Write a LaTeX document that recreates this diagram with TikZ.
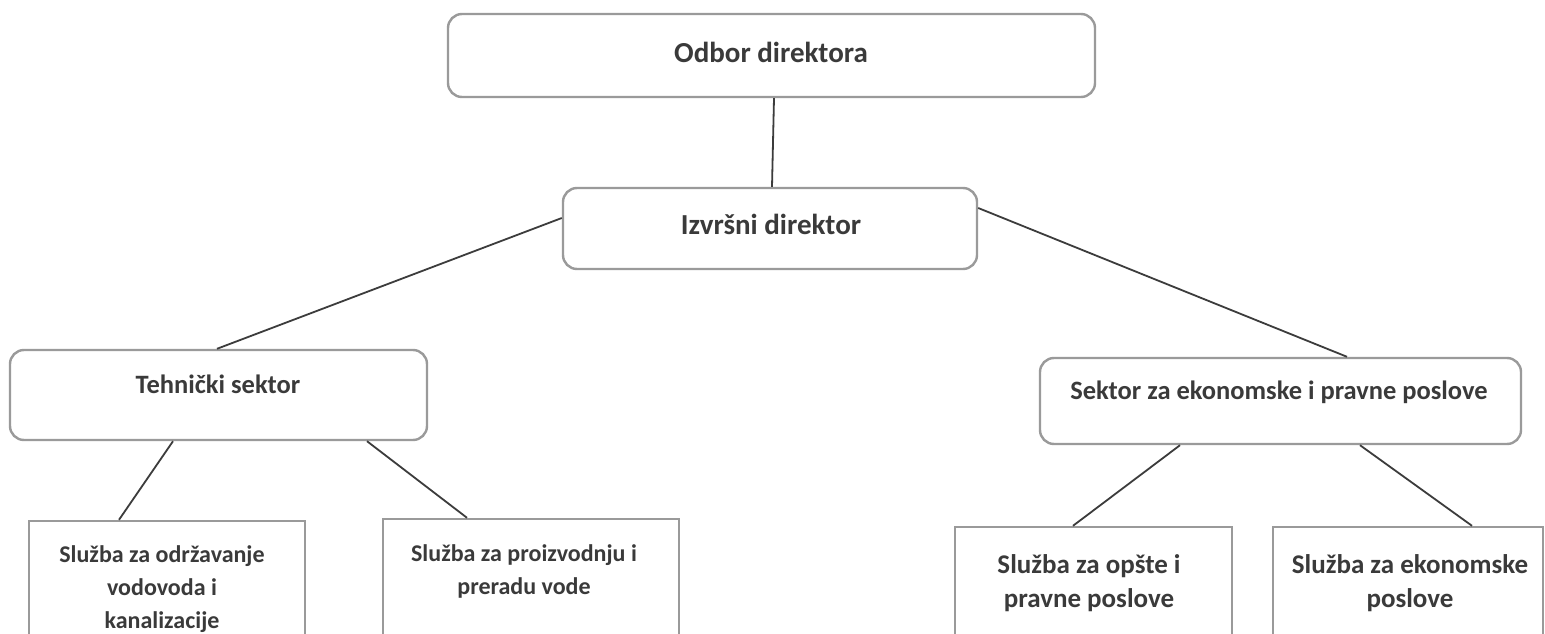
\documentclass[tikz,border=0pt]{standalone}
\usepackage{fontspec}
\setmainfont{Carlito}
\begin{document}
\begin{tikzpicture}[x=1pt,y=-1pt,
  rbox/.style={draw=boxgray, line width=2.4pt, rounded corners=14pt, inner sep=0pt},
  sbox/.style={draw=boxgray, line width=2.4pt, inner sep=0pt},
  txt/.style={text=txtgray, font=\bfseries, inner sep=0pt, align=center},
  conn/.style={draw=linegray, line width=1.8pt}]
\definecolor{boxgray}{HTML}{9A9A9A}
\definecolor{linegray}{HTML}{3C3C3C}
\definecolor{txtgray}{HTML}{3A3A3A}
\clip (0,0) rectangle (1545,634);
\fill[white] (0,0) rectangle (1545,634);
% boxes
\node[rbox, minimum width=647pt, minimum height=83pt] (odbor) at (771.5,55.5) {};
\node[rbox, minimum width=414pt, minimum height=81pt] (izv) at (770,228.5) {};
\node[rbox, minimum width=417pt, minimum height=90pt] (tech) at (218.5,395) {};
\node[rbox, minimum width=481pt, minimum height=86pt] (sek) at (1280.5,401) {};
\node[sbox, minimum width=276pt, minimum height=130pt] (sa) at (167,586) {};
\node[sbox, minimum width=296pt, minimum height=130pt] (sb) at (531,584) {};
\node[sbox, minimum width=277pt, minimum height=122pt] (sc) at (1093.5,588) {};
\node[sbox, minimum width=270pt, minimum height=122pt] (sd) at (1408,588) {};
% texts
\node[txt, font=\bfseries\fontsize{29pt}{35pt}\selectfont] (todbor) at (771,52) {Odbor direktora};
\node[txt, font=\bfseries\fontsize{29pt}{35pt}\selectfont] (tizv) at (771,224) {Izvršni direktor};
\node[txt, font=\bfseries\fontsize{26.5pt}{32pt}\selectfont] (ttech) at (218,384) {Tehnički sektor};
\node[txt, font=\bfseries\fontsize{26.5pt}{32pt}\selectfont] (tsek) at (1279,392) {Sektor za ekonomske i pravne poslove};
\node[txt, font=\bfseries\fontsize{24pt}{33pt}\selectfont] (tsa) at (162,589) {Služba za održavanje\\vodovoda i\\kanalizacije};
\node[txt, font=\bfseries\fontsize{24pt}{33pt}\selectfont] (tsb) at (524,571) {Služba za proizvodnju i\\preradu vode};
\node[txt, font=\bfseries\fontsize{27pt}{34pt}\selectfont] (tsc) at (1089,583) {Služba za opšte i\\pravne poslove};
\node[txt, font=\bfseries\fontsize{27pt}{34pt}\selectfont] (tsd) at (1410,583) {Služba za ekonomske\\poslove};
% connectors
\draw[conn] ([xshift=2.5pt]odbor.south) -- ([xshift=2pt]izv.north);
\draw[conn] ([yshift=10.5pt]izv.west) -- ([xshift=-1.5pt]tech.north);
\draw[conn] ([yshift=20.5pt]izv.east) -- ([xshift=66.5pt]sek.north);
\draw[conn] ([xshift=-45.5pt]tech.south) -- ([xshift=-48pt]sa.north);
\draw[conn] ([xshift=148.5pt]tech.south) -- ([xshift=-64pt]sb.north);
\draw[conn] ([xshift=-100.5pt]sek.south) -- ([xshift=-20.5pt]sc.north);
\draw[conn] ([xshift=79.5pt]sek.south) -- ([xshift=64pt]sd.north);
\end{tikzpicture}
\end{document}
